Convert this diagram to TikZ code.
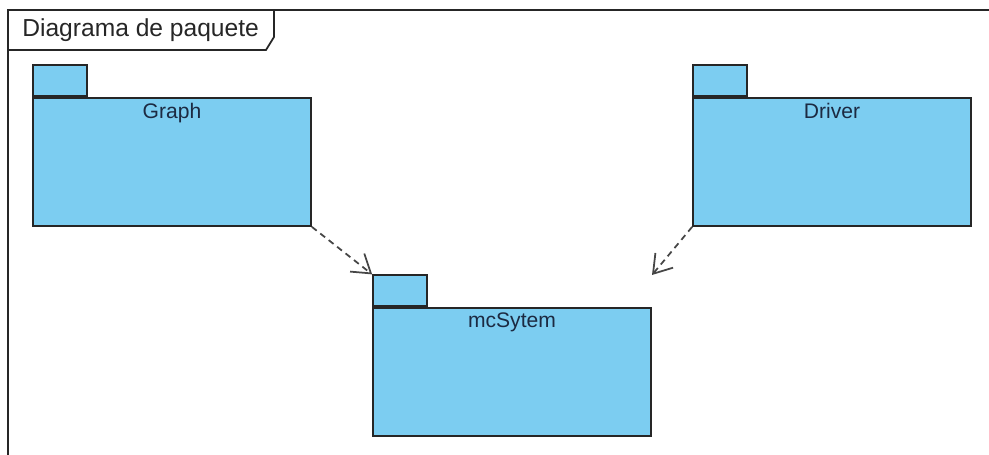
\documentclass[tikz,border=0pt]{standalone}
\usepackage{fontspec}
\setmainfont{Liberation Sans}
\usetikzlibrary{positioning, arrows.meta}

\definecolor{pkgblue}{RGB}{124,205,241}
\definecolor{pkgtext}{RGB}{28,42,66}
\definecolor{depgray}{RGB}{70,70,70}

\tikzset{
    pkgbody/.style={rectangle, draw=black!85, line width=1pt, fill=pkgblue, minimum width=5.56cm, minimum height=2.56cm, inner sep=0pt},
    pkgtab/.style={rectangle, draw=black!85, line width=1pt, fill=pkgblue, minimum width=1.08cm, minimum height=0.62cm, inner sep=0pt, anchor=south west},
    pkglabel/.style={anchor=north, inner sep=0pt, text=pkgtext, font=\fontsize{12}{14}\selectfont},
    dep/.style={depgray, line width=1pt, dash pattern=on 3.5pt off 2.6pt, -{Straight Barb[length=3.5mm, width=4.6mm, line width=1pt]}}
}

\begin{document}
\begin{tikzpicture}[x=0.02cm, y=-0.02cm]
        \useasboundingbox (0,0) rectangle (989,455);

        % diagram frame with its name tag
        \draw[line width=1pt, black!85] (8,455) -- (8,10) -- (989,10);
        \draw[line width=1pt, black!85] (8,50) -- (266,50) -- (274,37) -- (274,10);
        \node (frameName) [anchor=west, inner sep=0pt, font=\fontsize{14}{16}\selectfont, text=black!85] at (22,30) {Diagrama de paquete};

        % packages
        \node (graph) [pkgbody] at (172,162) {};
        \node (graphTab) [pkgtab] at (graph.north west) {};
        \node (graphName) [pkglabel, below=3pt of graph.north] {Graph};

        \node (driver) [pkgbody] at (832,162) {};
        \node (driverTab) [pkgtab] at (driver.north west) {};
        \node (driverName) [pkglabel, below=3pt of driver.north] {Driver};

        \node (mcSys) [pkgbody] at (512,372) {};
        \node (mcSysTab) [pkgtab] at (mcSys.north west) {};
        \node (mcSysName) [pkglabel, below=3pt of mcSys.north] {mcSytem};

        % dependencies
        \coordinate (mcSysIn) at (652,275);
        \draw [dep] (graph.south east) -- (mcSysTab.north west);
        \draw [dep] (driver.south west) -- (mcSysIn);
\end{tikzpicture}
\end{document}
